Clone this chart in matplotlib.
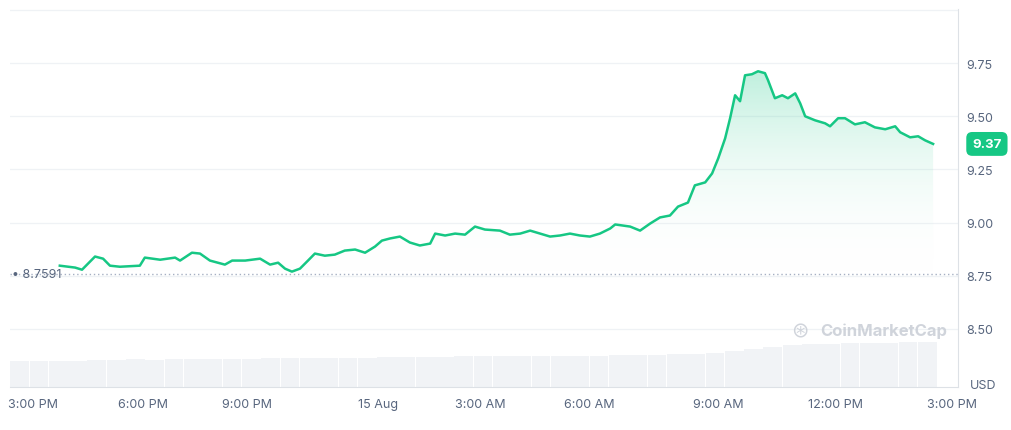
import numpy as np
import matplotlib.pyplot as plt
from matplotlib.patches import Polygon

# hours after 3:00 PM
hours = [0.70, 1.10, 1.28, 1.62, 1.83, 2.01, 2.27, 2.79, 2.92, 3.32, 3.71, 3.84, 4.15, 4.36, 4.62,
         5.01, 5.20, 5.54, 5.93, 6.19, 6.40, 6.58, 6.76, 6.97, 7.18, 7.36, 7.62, 7.88, 8.14, 8.41,
         8.67, 8.93, 9.11, 9.32, 9.58, 9.84, 10.10, 10.37, 10.50, 10.76, 11.02, 11.28, 11.54, 11.80,
         12.19, 12.45, 12.72, 12.98, 13.24, 13.50, 13.76, 14.02, 14.28, 14.54, 14.80, 15.07, 15.20,
         15.59, 15.85, 16.11, 16.37, 16.63, 16.84, 17.10, 17.28, 17.55, 17.73, 17.89, 18.07, 18.20,
         18.33, 18.46, 18.59, 18.77, 18.93, 19.11, 19.19, 19.37, 19.56, 19.71, 19.90, 20.03, 20.16,
         20.42, 20.68, 20.81, 21.02, 21.20, 21.46, 21.72, 21.98, 22.25, 22.51, 22.64, 22.90, 23.11,
         23.29, 23.50]
price = [8.797, 8.788, 8.778, 8.840, 8.830, 8.797, 8.792, 8.797, 8.835, 8.825, 8.835, 8.821, 8.858,
         8.854, 8.821, 8.802, 8.821, 8.821, 8.830, 8.802, 8.811, 8.783, 8.769, 8.783, 8.821, 8.854,
         8.844, 8.849, 8.868, 8.873, 8.858, 8.887, 8.915, 8.925, 8.934, 8.906, 8.892, 8.901, 8.948,
         8.939, 8.948, 8.943, 8.981, 8.967, 8.962, 8.943, 8.948, 8.962, 8.948, 8.934, 8.939, 8.948,
         8.939, 8.934, 8.948, 8.972, 8.991, 8.981, 8.962, 8.995, 9.024, 9.033, 9.075, 9.094, 9.175,
         9.189, 9.231, 9.302, 9.396, 9.491, 9.599, 9.571, 9.693, 9.698, 9.712, 9.703, 9.670, 9.585,
         9.599, 9.585, 9.608, 9.561, 9.500, 9.481, 9.467, 9.453, 9.491, 9.491, 9.462, 9.472, 9.448,
         9.439, 9.453, 9.425, 9.401, 9.406, 9.387, 9.370]
volume = [6.8, 6.9, 7.0, 7.0, 7.1, 7.2, 7.3, 7.2, 7.3, 7.4, 7.4, 7.5, 7.5, 7.6, 7.6, 7.7, 7.7, 7.8,
          7.8, 7.9, 7.9, 8.0, 8.0, 8.1, 8.1, 8.2, 8.2, 8.2, 8.3, 8.3, 8.3, 8.4, 8.4, 8.5, 8.6, 8.8,
          9.1, 9.5, 10.0, 10.5, 11.0, 11.3, 11.5, 11.6, 11.7, 11.7, 11.8, 11.8]
open_price = 8.7591
tick_pos = [0, 2.87, 5.59, 9.01, 11.67, 14.52, 17.89, 20.94, 24.0]
tick_lab = ['3:00 PM', '6:00 PM', '9:00 PM', '15 Aug', '3:00 AM', '6:00 AM', '9:00 AM', '12:00 PM', '3:00 PM']
y_ticks = [8.50, 8.75, 9.00, 9.25, 9.50, 9.75]

green = '#16c784'
plt.rcParams['font.family'] = ['Inter', 'DejaVu Sans']

fig = plt.figure(figsize=(10.12, 4.31), dpi=100)
ax = fig.add_axes([10 / 1012, 43 / 431, 948 / 1012, 378 / 431])
ax2 = ax.twinx()
ax2.set_zorder(0)
ax.set_zorder(1)
ax.patch.set_visible(False)

# volume bars
xmin, xmax = -0.60, 24.15
vx = np.linspace(xmin + 0.25, 23.35, len(volume))
ax2.bar(vx, volume, width=(vx[1] - vx[0]) * 0.97, color='#f1f3f6', edgecolor='none')
ax2.set_ylim(0, 100)
ax2.axis('off')

ymin, ymax = 8.226, 10.005
for y in y_ticks + [10.0]:
    ax.axhline(y, color='#eff2f5', lw=0.9, zorder=0)

# gradient fill under price
xs = np.array(hours)
ps = np.array(price)
grad = np.linspace(0, 1, 256).reshape(-1, 1)
cmap = plt.matplotlib.colors.LinearSegmentedColormap.from_list('g', [(1, 1, 1, 0), (0.086, 0.78, 0.52, 0.28)])
im = ax.imshow(grad, cmap=cmap, aspect='auto', origin='lower',
               extent=[xs[0], xs[-1], open_price, 9.72], zorder=1)
poly = Polygon(np.column_stack([np.r_[xs, xs[-1], xs[0]], np.r_[ps, open_price, open_price]]),
               closed=True, transform=ax.transData, facecolor='none', edgecolor='none')
ax.add_patch(poly)
im.set_clip_path(poly)

ax.plot(xs, ps, color=green, lw=1.8, zorder=3)
ax.axhline(open_price, color='#a6b0c3', lw=1, ls=(0, (1, 2)), zorder=2)
ax.text(-0.55, open_price, '• 8.7591', fontsize=9, color='#58667e', va='center', ha='left', zorder=4)

ax.set_xlim(xmin, xmax)
ax.set_ylim(ymin, ymax)
ax.set_xticks(tick_pos)
ax.set_xticklabels(tick_lab)
ax.set_yticks(y_ticks)
ax.set_yticklabels([f'{v:.2f}' for v in y_ticks])
ax.yaxis.tick_right()
ax.tick_params(axis='both', length=0, labelsize=9, colors='#58667e')
ax.tick_params(axis='y', pad=6)
ax.tick_params(axis='x', pad=8)
for s in ['top', 'left']:
    ax.spines[s].set_visible(False)
ax.spines['right'].set_color('#dde1e6')
ax.spines['bottom'].set_color('#dde1e6')

ax.text(1.015, ps[-1], f'{ps[-1]:.2f}', transform=ax.get_yaxis_transform(), fontsize=9.5,
        fontweight='bold', color='white', va='center', ha='left',
        bbox=dict(boxstyle='round,pad=0.45', fc=green, ec='none'))
fig.text(0.985, 45 / 431, 'USD', fontsize=9, color='#58667e', ha='right', va='center')
fig.text(820 / 1012, 100 / 431, 'CoinMarketCap', fontsize=12, fontweight='bold',
         color='#c5cad3', ha='left', va='center', alpha=0.8)
fig.text(800 / 1012, 100 / 431, '⊛', fontsize=15, color='#c5cad3', ha='center', va='center', alpha=0.8)

fig.savefig('out.png', dpi=100)
